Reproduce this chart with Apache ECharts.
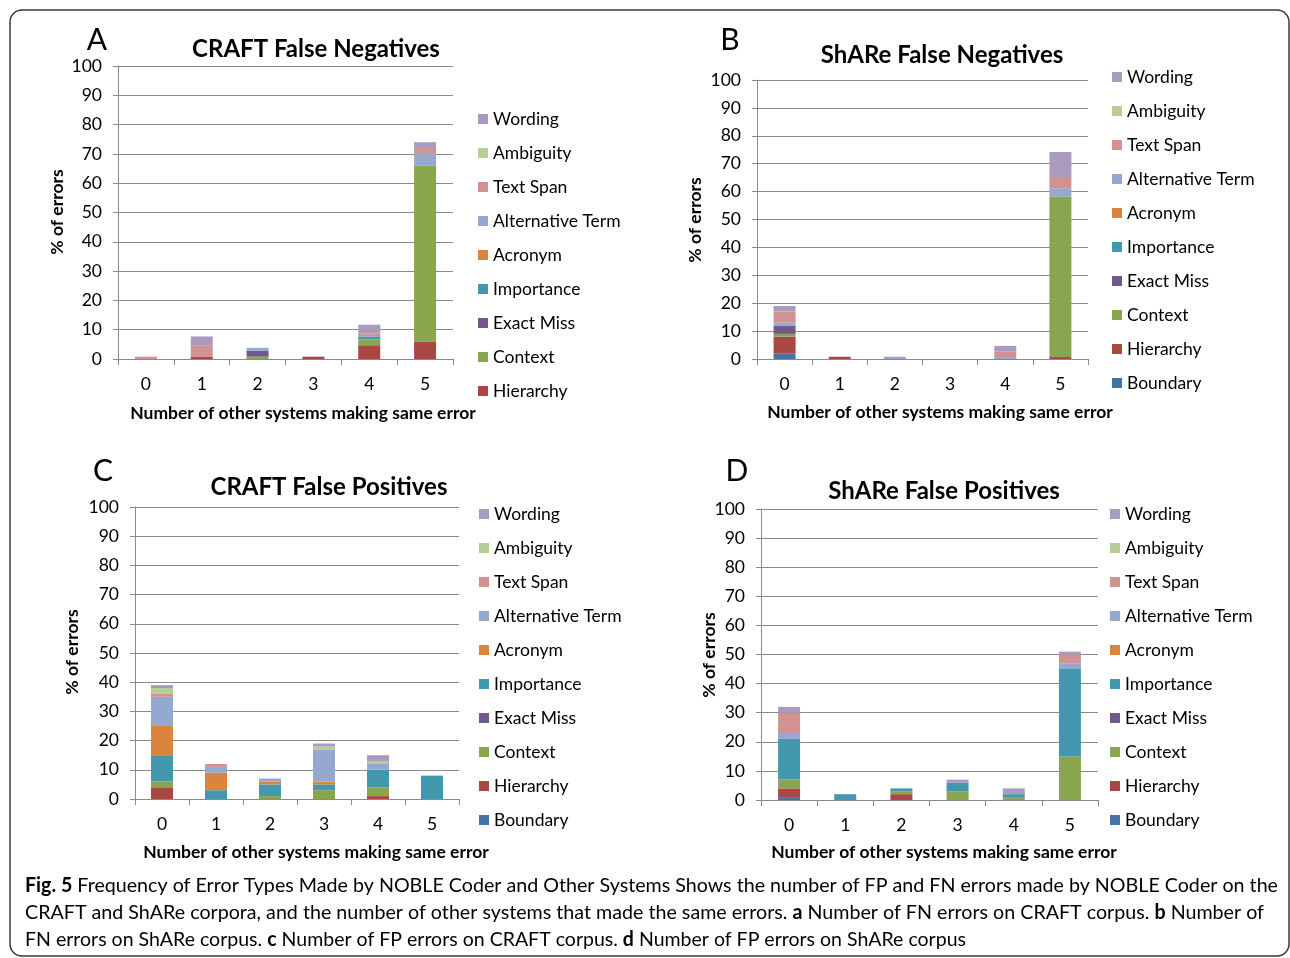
<!DOCTYPE html>
<html><head><meta charset="utf-8">
<script src="https://cdn.jsdelivr.net/npm/echarts@6/dist/echarts.min.js"></script>
<style>html,body{margin:0;padding:0;background:#fff}#c{width:1290px;height:958px}</style>
</head><body><div id="c"></div>
<script>
// ---------- DATA ----------
const categories = ['0', '1', '2', '3', '4', '5'];
const errorTypes = ['Boundary', 'Hierarchy', 'Context', 'Exact Miss', 'Importance', 'Acronym', 'Alternative Term', 'Text Span', 'Ambiguity', 'Wording'];

// A: CRAFT False Negatives
const craftFN_Boundary    = [0, 0, 0, 0, 0, 0];
const craftFN_Hierarchy   = [0, 0.7, 0, 0.8, 4.7, 6];
const craftFN_Context     = [0, 0, 0.8, 0, 2, 60];
const craftFN_ExactMiss   = [0, 0, 2, 0, 0, 0];
const craftFN_Importance  = [0, 0, 0, 0, 1, 0];
const craftFN_Acronym     = [0, 0, 0, 0, 0, 0];
const craftFN_AltTerm     = [0, 0, 1, 0, 0, 4];
const craftFN_TextSpan    = [0.8, 4, 0, 0, 1, 2];
const craftFN_Ambiguity   = [0, 0, 0, 0, 0, 0];
const craftFN_Wording     = [0, 3, 0, 0, 3, 2];

// B: ShARe False Negatives
const shareFN_Boundary    = [2, 0, 0, 0, 0, 0];
const shareFN_Hierarchy   = [6, 0.8, 0, 0, 0, 0.7];
const shareFN_Context     = [1, 0, 0, 0, 0, 57.5];
const shareFN_ExactMiss   = [3, 0, 0, 0, 0, 0];
const shareFN_Importance  = [0, 0, 0, 0, 0, 0];
const shareFN_Acronym     = [0, 0, 0, 0, 0, 0];
const shareFN_AltTerm     = [1, 0, 0.8, 0, 0.7, 3];
const shareFN_TextSpan    = [4, 0, 0, 0, 2, 4];
const shareFN_Ambiguity   = [0, 0, 0, 0, 0, 0];
const shareFN_Wording     = [2, 0, 0, 0, 2, 9];

// C: CRAFT False Positives
const craftFP_Boundary    = [0, 0, 0, 0, 0, 0];
const craftFP_Hierarchy   = [4, 0, 0, 0, 1, 0];
const craftFP_Context     = [2, 0, 1, 3, 3, 0];
const craftFP_ExactMiss   = [0, 0, 0, 0, 0, 0];
const craftFP_Importance  = [9, 3, 4, 2, 6, 8];
const craftFP_Acronym     = [10, 6, 1, 1, 0, 0];
const craftFP_AltTerm     = [10, 2, 1, 11, 2, 0];
const craftFP_TextSpan    = [1, 1, 0, 0, 0, 0];
const craftFP_Ambiguity   = [2, 0, 0, 1, 1, 0];
const craftFP_Wording     = [1, 0, 0, 1, 2, 0];

// D: ShARe False Positives
const shareFP_Boundary    = [1, 0, 0, 0, 0, 0];
const shareFP_Hierarchy   = [3, 0, 2, 0, 0, 0];
const shareFP_Context     = [3, 0, 1, 3, 1, 15];
const shareFP_ExactMiss   = [0, 0, 0, 0, 0, 0];
const shareFP_Importance  = [14, 2, 1, 3, 1, 30];
const shareFP_Acronym     = [0, 0, 0, 0, 0, 0];
const shareFP_AltTerm     = [2, 0, 0, 0, 0, 2];
const shareFP_TextSpan    = [7, 0, 0, 0, 0, 3];
const shareFP_Ambiguity   = [0, 0, 0, 0, 0, 0];
const shareFP_Wording     = [2, 0, 0, 1, 2, 1];

const panelTitles = ['CRAFT False Negatives', 'ShARe False Negatives', 'CRAFT False Positives', 'ShARe False Positives'];
const panelLetters = ['A', 'B', 'C', 'D'];
const yAxisName = '% of errors';
const xAxisName = 'Number of other systems making same error';
const captionLines = [
  [['Fig. 5', true], [' Frequency of Error Types Made by NOBLE Coder and Other Systems Shows the number of FP and FN errors made by NOBLE Coder on the', false]],
  [['CRAFT and ShARe corpora, and the number of other systems that made the same errors. ', false], ['a', true], [' Number of FN errors on CRAFT corpus. ', false], ['b', true], [' Number of', false]],
  [['FN errors on ShARe corpus. ', false], ['c', true], [' Number of FP errors on CRAFT corpus. ', false], ['d', true], [' Number of FP errors on ShARe corpus', false]]
];

const panelData = [
  [craftFN_Boundary, craftFN_Hierarchy, craftFN_Context, craftFN_ExactMiss, craftFN_Importance, craftFN_Acronym, craftFN_AltTerm, craftFN_TextSpan, craftFN_Ambiguity, craftFN_Wording],
  [shareFN_Boundary, shareFN_Hierarchy, shareFN_Context, shareFN_ExactMiss, shareFN_Importance, shareFN_Acronym, shareFN_AltTerm, shareFN_TextSpan, shareFN_Ambiguity, shareFN_Wording],
  [craftFP_Boundary, craftFP_Hierarchy, craftFP_Context, craftFP_ExactMiss, craftFP_Importance, craftFP_Acronym, craftFP_AltTerm, craftFP_TextSpan, craftFP_Ambiguity, craftFP_Wording],
  [shareFP_Boundary, shareFP_Hierarchy, shareFP_Context, shareFP_ExactMiss, shareFP_Importance, shareFP_Acronym, shareFP_AltTerm, shareFP_TextSpan, shareFP_Ambiguity, shareFP_Wording]
];

// ---------- STYLE / LAYOUT ----------
const typeColors = {
  'Boundary': '#4572A7', 'Hierarchy': '#AA4643', 'Context': '#89A54E', 'Exact Miss': '#71588F',
  'Importance': '#4198AF', 'Acronym': '#DB843D', 'Alternative Term': '#93A9CF', 'Text Span': '#D19392',
  'Ambiguity': '#B9CD96', 'Wording': '#A99BBD'
};
const FONT = 'Lato, "Open Sans", sans-serif';
const FS = 17.5;
const grids = [
  {left: 118, top: 66, width: 335, height: 293},
  {left: 757, top: 80, width: 331, height: 279},
  {left: 135, top: 507, width: 324, height: 292},
  {left: 761, top: 509, width: 337, height: 291}
];
const legendPos = [{left: 478, top: 109}, {left: 1112, top: 67}, {left: 479, top: 504}, {left: 1110, top: 504}];
const letterPos = [[97, 40], [730, 40], [103, 471], [737, 471]];
const titlePos = [[316, 49], [942, 55], [329, 487], [944, 491]];
const yNamePos = [[57, 212], [695, 220], [72, 652], [709, 655]];
const xNamePos = [[303, 413], [940, 412], [316, 852], [944, 852]];
const legendLists = [
  ['Wording', 'Ambiguity', 'Text Span', 'Alternative Term', 'Acronym', 'Importance', 'Exact Miss', 'Context', 'Hierarchy'],
  ['Wording', 'Ambiguity', 'Text Span', 'Alternative Term', 'Acronym', 'Importance', 'Exact Miss', 'Context', 'Hierarchy', 'Boundary'],
  ['Wording', 'Ambiguity', 'Text Span', 'Alternative Term', 'Acronym', 'Importance', 'Exact Miss', 'Context', 'Hierarchy', 'Boundary'],
  ['Wording', 'Ambiguity', 'Text Span', 'Alternative Term', 'Acronym', 'Importance', 'Exact Miss', 'Context', 'Hierarchy', 'Boundary']
];
const axisGray = '#8a8a8a';

const xAxes = [], yAxes = [], series = [], legends = [], graphics = [];
grids.forEach((g, i) => {
  xAxes.push({
    type: 'category', gridIndex: i, data: categories,
    axisLine: {lineStyle: {color: axisGray, width: 1}},
    axisTick: {show: true, alignWithLabel: false, length: 6, lineStyle: {color: axisGray}},
    axisLabel: {fontFamily: FONT, fontSize: FS, color: '#000', margin: 16}
  });
  yAxes.push({
    type: 'value', gridIndex: i, min: 0, max: 100, interval: 10,
    axisLine: {show: true, lineStyle: {color: axisGray, width: 1}},
    axisTick: {show: true, length: 5, lineStyle: {color: axisGray}},
    splitLine: {show: true, lineStyle: {color: axisGray, width: 1}},
    axisLabel: {fontFamily: FONT, fontSize: FS, color: '#000', margin: 16}
  });
  errorTypes.forEach((t, k) => {
    series.push({
      name: t, type: 'bar', stack: 'p' + i, xAxisIndex: i, yAxisIndex: i,
      barWidth: 22, data: panelData[i][k],
      itemStyle: {color: typeColors[t]},
      emphasis: {disabled: true}, animation: false
    });
  });
  legends.push({
    orient: 'vertical', left: legendPos[i].left, top: legendPos[i].top, padding: 0,
    data: legendLists[i], icon: 'rect', itemWidth: 10, itemHeight: 10, itemGap: 14,
    selectedMode: false,
    textStyle: {fontFamily: FONT, fontSize: FS, color: '#000', lineHeight: 20}
  });
  graphics.push({type: 'text', x: letterPos[i][0], y: letterPos[i][1],
    style: {text: panelLetters[i], font: '30px ' + FONT, fill: '#000', textAlign: 'center', textVerticalAlign: 'middle'}});
  graphics.push({type: 'text', x: titlePos[i][0], y: titlePos[i][1],
    style: {text: panelTitles[i], font: 'bold 24px ' + FONT, fill: '#000', textAlign: 'center', textVerticalAlign: 'middle'}});
  graphics.push({type: 'text', x: yNamePos[i][0], y: yNamePos[i][1], rotation: Math.PI / 2,
    style: {text: yAxisName, font: 'bold ' + FS + 'px ' + FONT, fill: '#000', textAlign: 'center', textVerticalAlign: 'middle'}});
  graphics.push({type: 'text', x: xNamePos[i][0], y: xNamePos[i][1],
    style: {text: xAxisName, font: 'bold ' + FS + 'px ' + FONT, fill: '#000', textAlign: 'center', textVerticalAlign: 'middle'}});
});

// border
graphics.push({type: 'rect', shape: {x: 10, y: 10, width: 1279, height: 946, r: 12},
  style: {fill: 'none', stroke: '#3a3a3a', lineWidth: 1.5}, silent: true});

// caption
const capFont = 20;
const capTargets = [1253, 1239, 941];
const capY = [886, 913, 940];
const mctx = document.createElement('canvas').getContext('2d');
captionLines.forEach((segs, li) => {
  let w = 0, txt = '';
  segs.forEach(([s, b]) => {
    mctx.font = (b ? 'bold ' : '') + capFont + 'px ' + FONT;
    w += mctx.measureText(s).width;
    txt += b ? '{b|' + s + '}' : '{n|' + s + '}';
  });
  graphics.push({type: 'text', x: 25, y: capY[li], scaleX: capTargets[li] / w, originX: 0,
    style: {text: txt, textVerticalAlign: 'middle', textAlign: 'left',
      rich: {b: {fontFamily: FONT, fontSize: capFont, fontWeight: 'bold', color: '#1a1a1a'},
             n: {fontFamily: FONT, fontSize: capFont, color: '#555'}}}});
});

const chart = echarts.init(document.getElementById('c'), null, {renderer: 'canvas'});
chart.setOption({
  animation: false,
  backgroundColor: '#fff',
  grid: grids,
  xAxis: xAxes,
  yAxis: yAxes,
  legend: legends,
  series: series,
  graphic: graphics
});
</script></body></html>
